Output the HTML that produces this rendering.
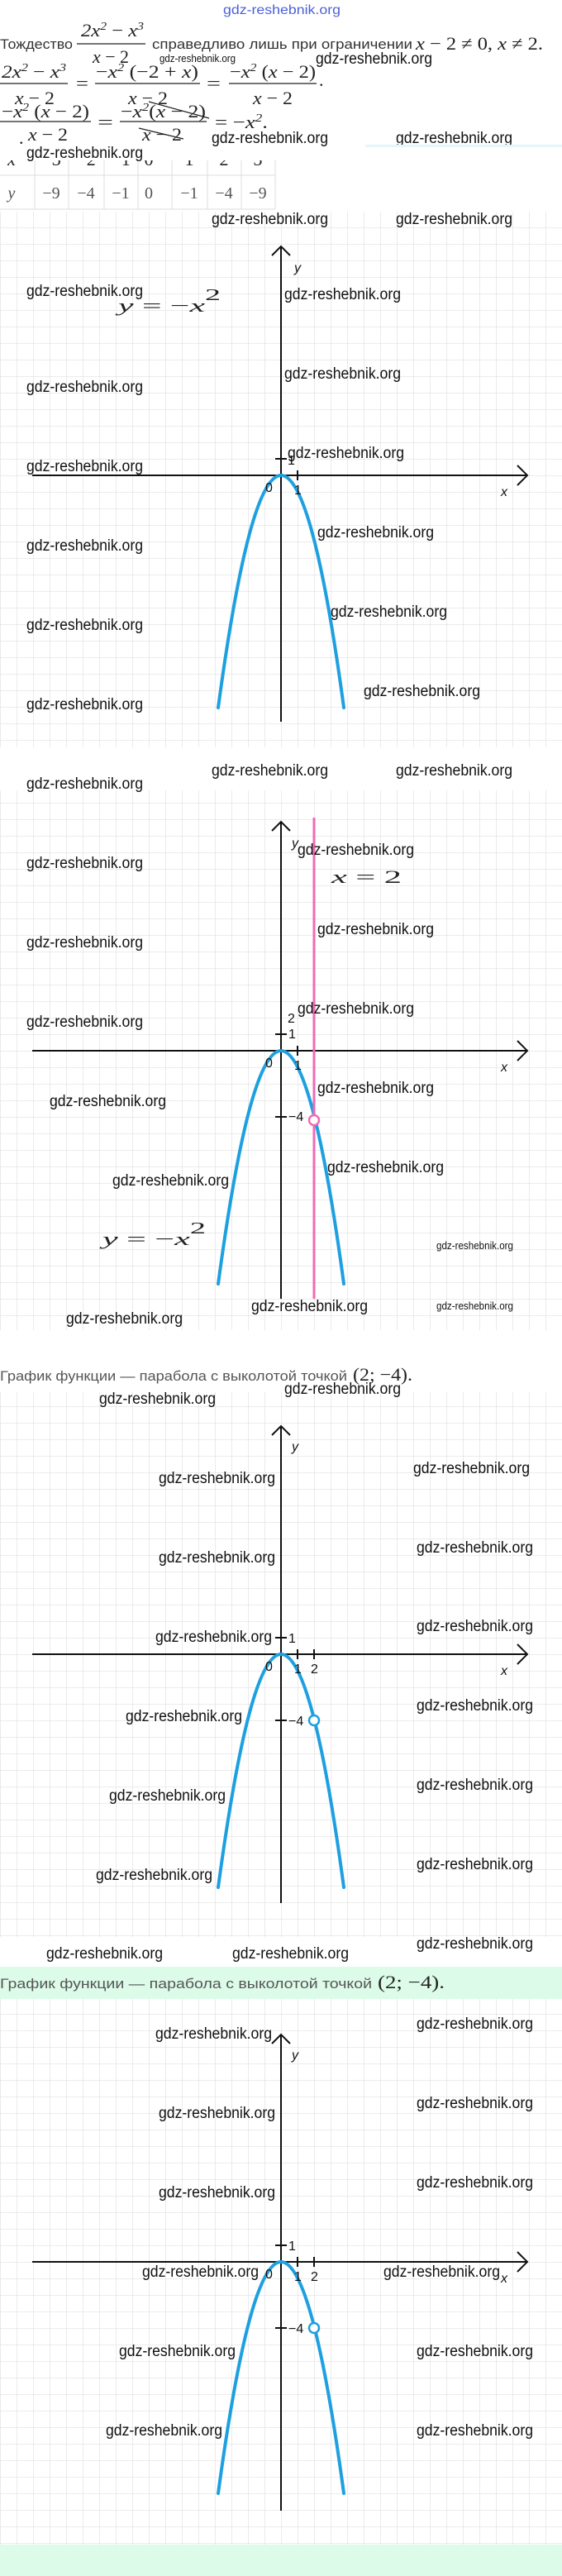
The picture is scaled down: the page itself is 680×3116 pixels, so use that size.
<!DOCTYPE html>
<html><head><meta charset="utf-8"><style>
html,body{margin:0;padding:0;background:#fff}
svg{display:block}
.w{font-family:"Liberation Sans",sans-serif;font-size:19px;fill:#111}
.ws{font-family:"Liberation Sans",sans-serif;font-size:13px;fill:#111}
.m{font-family:"Liberation Serif",serif;font-size:22px;fill:#222}
.mi{font-family:"Liberation Serif",serif;font-style:italic}
.t{font-family:"Liberation Sans","DejaVu Sans",sans-serif;font-size:17px;fill:#333}
.c{font-family:"Liberation Sans","DejaVu Sans",sans-serif;font-size:17px;fill:#555}
.l{font-family:"Liberation Sans",sans-serif;font-size:16px;fill:#111}
.ax{stroke:#111;stroke-width:2;fill:none}
.pb{stroke:#1ea0e0;stroke-width:4;fill:none;stroke-linecap:round}
</style></head><body>
<svg width="680" height="3116" viewBox="0 0 680 3116" xmlns="http://www.w3.org/2000/svg">
<defs>
<pattern id="g1" x="340" y="575" width="20" height="20" patternUnits="userSpaceOnUse"><path d="M0 0H20M0 0V20" stroke="#e0e0e0" stroke-width="1.3" fill="none"/></pattern>
<pattern id="g2" x="340" y="1271" width="20" height="20" patternUnits="userSpaceOnUse"><path d="M0 0H20M0 0V20" stroke="#e0e0e0" stroke-width="1.3" fill="none"/></pattern>
<pattern id="g3" x="340" y="2001" width="20" height="20" patternUnits="userSpaceOnUse"><path d="M0 0H20M0 0V20" stroke="#e0e0e0" stroke-width="1.3" fill="none"/></pattern>
<pattern id="g4" x="340" y="2736" width="20" height="20" patternUnits="userSpaceOnUse"><path d="M0 0H20M0 0V20" stroke="#e0e0e0" stroke-width="1.3" fill="none"/></pattern>
<clipPath id="tc"><rect x="0" y="194" width="340" height="70"/></clipPath>
</defs>

<!-- header -->
<text x="270" y="17" textLength="142" lengthAdjust="spacingAndGlyphs" font-family="Liberation Sans,sans-serif" font-size="16" fill="#4b5fd6">gdz-reshebnik.org</text>

<!-- line 1 -->
<text class="t" x="0" y="59" textLength="88" lengthAdjust="spacingAndGlyphs">Тождество</text>
<text class="m mi" x="98" y="44" textLength="76" lengthAdjust="spacingAndGlyphs">2x<tspan font-size="14" dy="-8">2</tspan><tspan dy="8" font-style="normal"> − </tspan>x<tspan font-size="14" dy="-8">3</tspan></text>
<line x1="93" y1="53" x2="176" y2="53" stroke="#222" stroke-width="1.2"/>
<text class="m mi" x="112" y="76" textLength="44" lengthAdjust="spacingAndGlyphs">x <tspan font-style="normal">− 2</tspan></text>
<text class="t" x="184" y="59" textLength="315" lengthAdjust="spacingAndGlyphs">справедливо лишь при ограничении</text>
<text class="m mi" x="503" y="60" textLength="154" lengthAdjust="spacingAndGlyphs">x <tspan font-style="normal">− 2 ≠ 0, </tspan>x<tspan font-style="normal"> ≠ 2.</tspan></text>
<text class="ws" x="193" y="75" textLength="92" lengthAdjust="spacingAndGlyphs">gdz-reshebnik.org</text>
<text class="w" x="382" y="77" textLength="141" lengthAdjust="spacingAndGlyphs">gdz-reshebnik.org</text>

<!-- line 2 -->
<text class="m mi" x="2" y="94" textLength="78" lengthAdjust="spacingAndGlyphs">2x<tspan font-size="14" dy="-8">2</tspan><tspan dy="8" font-style="normal"> − </tspan>x<tspan font-size="14" dy="-8">3</tspan></text>
<line x1="0" y1="101" x2="82" y2="101" stroke="#222" stroke-width="1.2"/>
<text class="m mi" x="18" y="126" textLength="48" lengthAdjust="spacingAndGlyphs">x <tspan font-style="normal">− 2</tspan></text>
<text class="m" x="92" y="108" textLength="15" lengthAdjust="spacingAndGlyphs">=</text>
<text class="m mi" x="116" y="94" textLength="124" lengthAdjust="spacingAndGlyphs"><tspan font-style="normal">−</tspan>x<tspan font-size="14" dy="-8">2</tspan><tspan dy="8" font-style="normal"> (−2 + </tspan>x<tspan font-style="normal">)</tspan></text>
<line x1="115" y1="101" x2="242" y2="101" stroke="#222" stroke-width="1.2"/>
<text class="m mi" x="155" y="126" textLength="48" lengthAdjust="spacingAndGlyphs">x <tspan font-style="normal">− 2</tspan></text>
<text class="m" x="250" y="108" textLength="17" lengthAdjust="spacingAndGlyphs">=</text>
<text class="m mi" x="278" y="94" textLength="104" lengthAdjust="spacingAndGlyphs"><tspan font-style="normal">−</tspan>x<tspan font-size="14" dy="-8">2</tspan><tspan dy="8" font-style="normal"> (</tspan>x<tspan font-style="normal"> − 2)</tspan></text>
<line x1="277" y1="101" x2="383" y2="101" stroke="#222" stroke-width="1.2"/>
<text class="m mi" x="306" y="126" textLength="48" lengthAdjust="spacingAndGlyphs">x <tspan font-style="normal">− 2</tspan></text>
<text class="m" x="386" y="104">.</text>

<!-- line 3 -->
<text class="m mi" x="2" y="142" textLength="106" lengthAdjust="spacingAndGlyphs"><tspan font-style="normal">−</tspan>x<tspan font-size="14" dy="-8">2</tspan><tspan dy="8" font-style="normal"> (</tspan>x<tspan font-style="normal"> − 2)</tspan></text>
<line x1="0" y1="147" x2="110" y2="147" stroke="#222" stroke-width="1.2"/>
<text class="m" x="23" y="174">.</text>
<text class="m mi" x="34" y="170" textLength="48" lengthAdjust="spacingAndGlyphs">x <tspan font-style="normal">− 2</tspan></text>
<text class="m" x="118" y="155" textLength="19" lengthAdjust="spacingAndGlyphs">=</text>
<text class="m mi" x="146" y="142" textLength="103" lengthAdjust="spacingAndGlyphs"><tspan font-style="normal">−</tspan>x<tspan font-size="14" dy="-8">2</tspan><tspan dy="8" font-style="normal">(</tspan>x<tspan font-style="normal"> − 2)</tspan></text>
<line x1="145" y1="147" x2="250" y2="147" stroke="#222" stroke-width="1.2"/>
<line x1="180" y1="123" x2="253" y2="143" stroke="#222" stroke-width="1.2"/>
<text class="m mi" x="172" y="170" textLength="48" lengthAdjust="spacingAndGlyphs">x <tspan font-style="normal">− 2</tspan></text>
<line x1="168" y1="155" x2="222" y2="168" stroke="#222" stroke-width="1.2"/>
<text class="m mi" x="260" y="155" textLength="64" lengthAdjust="spacingAndGlyphs"><tspan font-style="normal">= −</tspan>x<tspan font-size="14" dy="-8">2</tspan><tspan dy="8" font-style="normal">.</tspan></text>
<text class="w" x="256" y="173" textLength="141" lengthAdjust="spacingAndGlyphs">gdz-reshebnik.org</text>
<text class="w" x="479" y="173" textLength="141" lengthAdjust="spacingAndGlyphs">gdz-reshebnik.org</text>
<rect x="442" y="175" width="238" height="3" fill="#e3f6fb"/>

<!-- table -->
<g clip-path="url(#tc)">
<g stroke="#dcdcdc" stroke-width="1">
<line x1="0" y1="212" x2="333" y2="212"/><line x1="0" y1="253" x2="333" y2="253"/>
<line x1="42" y1="170" x2="42" y2="253"/><line x1="83" y1="170" x2="83" y2="253"/><line x1="126" y1="170" x2="126" y2="253"/><line x1="167" y1="170" x2="167" y2="253"/><line x1="208" y1="170" x2="208" y2="253"/><line x1="251" y1="170" x2="251" y2="253"/><line x1="292" y1="170" x2="292" y2="253"/><line x1="333" y1="170" x2="333" y2="253"/>
</g>
<g class="m" font-size="20" fill="#555" text-anchor="middle">
<text x="14" y="200" class="mi">x</text><text x="62" y="200">−3</text><text x="104" y="200">−2</text><text x="146" y="200">−1</text><text x="180" y="200">0</text><text x="229" y="200">1</text><text x="271" y="200">2</text><text x="312" y="200">3</text>
</g>
</g>
<g font-family="Liberation Serif,serif" font-size="20" fill="#555" text-anchor="middle">
<text x="14" y="240" font-style="italic">y</text><text x="62" y="240">−9</text><text x="104" y="240">−4</text><text x="146" y="240">−1</text><text x="180" y="240">0</text><text x="229" y="240">−1</text><text x="271" y="240">−4</text><text x="312" y="240">−9</text>
</g>
<text class="w" x="32" y="191" textLength="141" lengthAdjust="spacingAndGlyphs">gdz-reshebnik.org</text>

<!-- GRAPH 1 -->
<rect x="0" y="256" width="680" height="648" fill="url(#g1)"/>
<text class="w" x="256" y="271" textLength="141" lengthAdjust="spacingAndGlyphs">gdz-reshebnik.org</text>
<text class="w" x="479" y="271" textLength="141" lengthAdjust="spacingAndGlyphs">gdz-reshebnik.org</text>
<line class="ax" x1="39" y1="575" x2="637" y2="575"/>
<polyline class="ax" points="626,563 638,575 626,587"/>
<line class="ax" x1="340" y1="298" x2="340" y2="873"/>
<polyline class="ax" points="329,309 340,298 351,309"/>
<line class="ax" x1="360" y1="569" x2="360" y2="581"/>
<line class="ax" x1="333" y1="555" x2="347" y2="555"/>
<path class="pb" d="M264 856 Q340 294 416 856"/>
<text class="l" x="356" y="329" font-style="italic">y</text>
<text class="l" x="606" y="600" font-style="italic">x</text>
<text class="l" x="321" y="595">0</text>
<text class="l" x="356" y="598">1</text>
<text class="l" x="348" y="562">1</text>
<text class="m mi" x="143" y="377" font-size="30" textLength="124" lengthAdjust="spacingAndGlyphs">y <tspan font-style="normal">= −</tspan>x<tspan font-size="20" dy="-14" font-style="normal">2</tspan></text>
<g class="w">
<text x="32" y="358" textLength="141" lengthAdjust="spacingAndGlyphs">gdz-reshebnik.org</text>
<text x="32" y="474" textLength="141" lengthAdjust="spacingAndGlyphs">gdz-reshebnik.org</text>
<text x="32" y="570" textLength="141" lengthAdjust="spacingAndGlyphs">gdz-reshebnik.org</text>
<text x="32" y="666" textLength="141" lengthAdjust="spacingAndGlyphs">gdz-reshebnik.org</text>
<text x="32" y="762" textLength="141" lengthAdjust="spacingAndGlyphs">gdz-reshebnik.org</text>
<text x="32" y="858" textLength="141" lengthAdjust="spacingAndGlyphs">gdz-reshebnik.org</text>
<text x="344" y="362" textLength="141" lengthAdjust="spacingAndGlyphs">gdz-reshebnik.org</text>
<text x="344" y="458" textLength="141" lengthAdjust="spacingAndGlyphs">gdz-reshebnik.org</text>
<text x="348" y="554" textLength="141" lengthAdjust="spacingAndGlyphs">gdz-reshebnik.org</text>
<text x="384" y="650" textLength="141" lengthAdjust="spacingAndGlyphs">gdz-reshebnik.org</text>
<text x="400" y="746" textLength="141" lengthAdjust="spacingAndGlyphs">gdz-reshebnik.org</text>
<text x="440" y="842" textLength="141" lengthAdjust="spacingAndGlyphs">gdz-reshebnik.org</text>
</g>

<!-- between -->
<text class="w" x="256" y="938" textLength="141" lengthAdjust="spacingAndGlyphs">gdz-reshebnik.org</text>
<text class="w" x="479" y="938" textLength="141" lengthAdjust="spacingAndGlyphs">gdz-reshebnik.org</text>
<text class="w" x="32" y="954" textLength="141" lengthAdjust="spacingAndGlyphs">gdz-reshebnik.org</text>

<!-- GRAPH 2 -->
<rect x="0" y="956" width="680" height="653" fill="url(#g2)"/>
<line class="ax" x1="39" y1="1271" x2="637" y2="1271"/>
<polyline class="ax" points="626,1259 638,1271 626,1283"/>
<line class="ax" x1="340" y1="994" x2="340" y2="1571"/>
<polyline class="ax" points="329,1005 340,994 351,1005"/>
<line class="ax" x1="360" y1="1265" x2="360" y2="1277"/>
<line class="ax" x1="333" y1="1251" x2="347" y2="1251"/>
<line class="ax" x1="333" y1="1351" x2="347" y2="1351"/>
<path class="pb" d="M264 1553 Q340 989 416 1553"/>
<line x1="380" y1="989" x2="380" y2="1571" stroke="#f06ab4" stroke-width="3"/>
<circle cx="380" cy="1355" r="6" fill="#fff" stroke="#f06ab4" stroke-width="2.5"/>
<text class="l" x="353" y="1025" font-style="italic">y</text>
<text class="l" x="606" y="1296" font-style="italic">x</text>
<text class="l" x="321" y="1291">0</text>
<text class="l" x="356" y="1294">1</text>
<text class="l" x="349" y="1256">1</text>
<text class="l" x="348" y="1237">2</text>
<text class="l" x="349" y="1356">−4</text>
<text class="m mi" x="401" y="1068" font-size="32" textLength="85" lengthAdjust="spacingAndGlyphs">x <tspan font-style="normal">= 2</tspan></text>
<text class="m mi" x="124" y="1506" font-size="32" textLength="125" lengthAdjust="spacingAndGlyphs">y <tspan font-style="normal">= −</tspan>x<tspan font-size="20" dy="-14" font-style="normal">2</tspan></text>
<g class="w">
<text x="32" y="1050" textLength="141" lengthAdjust="spacingAndGlyphs">gdz-reshebnik.org</text>
<text x="32" y="1146" textLength="141" lengthAdjust="spacingAndGlyphs">gdz-reshebnik.org</text>
<text x="32" y="1242" textLength="141" lengthAdjust="spacingAndGlyphs">gdz-reshebnik.org</text>
<text x="60" y="1338" textLength="141" lengthAdjust="spacingAndGlyphs">gdz-reshebnik.org</text>
<text x="136" y="1434" textLength="141" lengthAdjust="spacingAndGlyphs">gdz-reshebnik.org</text>
<text x="80" y="1601" textLength="141" lengthAdjust="spacingAndGlyphs">gdz-reshebnik.org</text>
<text x="360" y="1034" textLength="141" lengthAdjust="spacingAndGlyphs">gdz-reshebnik.org</text>
<text x="384" y="1130" textLength="141" lengthAdjust="spacingAndGlyphs">gdz-reshebnik.org</text>
<text x="360" y="1226" textLength="141" lengthAdjust="spacingAndGlyphs">gdz-reshebnik.org</text>
<text x="384" y="1322" textLength="141" lengthAdjust="spacingAndGlyphs">gdz-reshebnik.org</text>
<text x="396" y="1418" textLength="141" lengthAdjust="spacingAndGlyphs">gdz-reshebnik.org</text>
<text x="304" y="1586" textLength="141" lengthAdjust="spacingAndGlyphs">gdz-reshebnik.org</text>
</g>
<text class="ws" x="528" y="1511" textLength="93" lengthAdjust="spacingAndGlyphs">gdz-reshebnik.org</text>
<text class="ws" x="528" y="1584" textLength="93" lengthAdjust="spacingAndGlyphs">gdz-reshebnik.org</text>

<!-- caption 1 -->
<text class="c" x="0" y="1670" textLength="420" lengthAdjust="spacingAndGlyphs">График функции — парабола с выколотой точкой</text>
<text class="m" x="427" y="1670" font-size="19" fill="#555" textLength="72" lengthAdjust="spacingAndGlyphs">(2;  −4).</text>

<!-- GRAPH 3 -->
<rect x="0" y="1684" width="680" height="659" fill="url(#g3)"/>
<text class="w" x="344" y="1686" textLength="141" lengthAdjust="spacingAndGlyphs">gdz-reshebnik.org</text>
<text class="w" x="120" y="1698" textLength="141" lengthAdjust="spacingAndGlyphs">gdz-reshebnik.org</text>
<line class="ax" x1="39" y1="2001" x2="637" y2="2001"/>
<polyline class="ax" points="626,1989 638,2001 626,2013"/>
<line class="ax" x1="340" y1="1725" x2="340" y2="2302"/>
<polyline class="ax" points="329,1736 340,1725 351,1736"/>
<line class="ax" x1="360" y1="1995" x2="360" y2="2007"/>
<line class="ax" x1="380" y1="1995" x2="380" y2="2007"/>
<line class="ax" x1="333" y1="1981" x2="347" y2="1981"/>
<line class="ax" x1="333" y1="2081" x2="347" y2="2081"/>
<path class="pb" d="M264 2283 Q340 1719 416 2283"/>
<circle cx="380" cy="2081" r="6" fill="#fff" stroke="#1ea0e0" stroke-width="2.5"/>
<text class="l" x="353" y="1755" font-style="italic">y</text>
<text class="l" x="606" y="2026" font-style="italic">x</text>
<text class="l" x="321" y="2021">0</text>
<text class="l" x="356" y="2024">1</text>
<text class="l" x="376" y="2024">2</text>
<text class="l" x="349" y="1987">1</text>
<text class="l" x="349" y="2087">−4</text>
<g class="w">
<text x="192" y="1794" textLength="141" lengthAdjust="spacingAndGlyphs">gdz-reshebnik.org</text>
<text x="192" y="1890" textLength="141" lengthAdjust="spacingAndGlyphs">gdz-reshebnik.org</text>
<text x="188" y="1986" textLength="141" lengthAdjust="spacingAndGlyphs">gdz-reshebnik.org</text>
<text x="152" y="2082" textLength="141" lengthAdjust="spacingAndGlyphs">gdz-reshebnik.org</text>
<text x="132" y="2178" textLength="141" lengthAdjust="spacingAndGlyphs">gdz-reshebnik.org</text>
<text x="116" y="2274" textLength="141" lengthAdjust="spacingAndGlyphs">gdz-reshebnik.org</text>
<text x="500" y="1782" textLength="141" lengthAdjust="spacingAndGlyphs">gdz-reshebnik.org</text>
<text x="504" y="1878" textLength="141" lengthAdjust="spacingAndGlyphs">gdz-reshebnik.org</text>
<text x="504" y="1973" textLength="141" lengthAdjust="spacingAndGlyphs">gdz-reshebnik.org</text>
<text x="504" y="2069" textLength="141" lengthAdjust="spacingAndGlyphs">gdz-reshebnik.org</text>
<text x="504" y="2165" textLength="141" lengthAdjust="spacingAndGlyphs">gdz-reshebnik.org</text>
<text x="504" y="2261" textLength="141" lengthAdjust="spacingAndGlyphs">gdz-reshebnik.org</text>
<text x="504" y="2357" textLength="141" lengthAdjust="spacingAndGlyphs">gdz-reshebnik.org</text>
<text x="56" y="2369" textLength="141" lengthAdjust="spacingAndGlyphs">gdz-reshebnik.org</text>
<text x="281" y="2369" textLength="141" lengthAdjust="spacingAndGlyphs">gdz-reshebnik.org</text>
</g>

<!-- caption 2 green -->
<rect x="0" y="2379" width="680" height="39" fill="#dcfbe9"/>
<text class="c" x="0" y="2405" font-size="19" textLength="450" lengthAdjust="spacingAndGlyphs">График функции — парабола с выколотой точкой</text>
<text class="m" x="457" y="2405" font-size="21" fill="#555" textLength="81" lengthAdjust="spacingAndGlyphs">(2;  −4).</text>

<!-- GRAPH 4 -->
<rect x="0" y="2418" width="680" height="660" fill="url(#g4)"/>
<line class="ax" x1="39" y1="2736" x2="637" y2="2736"/>
<polyline class="ax" points="626,2724 638,2736 626,2748"/>
<line class="ax" x1="340" y1="2461" x2="340" y2="3037"/>
<polyline class="ax" points="329,2472 340,2461 351,2472"/>
<line class="ax" x1="360" y1="2730" x2="360" y2="2742"/>
<line class="ax" x1="380" y1="2730" x2="380" y2="2742"/>
<line class="ax" x1="333" y1="2716" x2="347" y2="2716"/>
<line class="ax" x1="333" y1="2816" x2="347" y2="2816"/>
<path class="pb" d="M264 3016 Q340 2456 416 3016"/>
<circle cx="380" cy="2816" r="6" fill="#fff" stroke="#1ea0e0" stroke-width="2.5"/>
<text class="l" x="353" y="2491" font-style="italic">y</text>
<text class="l" x="606" y="2761" font-style="italic">x</text>
<text class="l" x="321" y="2756">0</text>
<text class="l" x="356" y="2759">1</text>
<text class="l" x="376" y="2759">2</text>
<text class="l" x="349" y="2722">1</text>
<text class="l" x="349" y="2822">−4</text>
<g class="w">
<text x="188" y="2466" textLength="141" lengthAdjust="spacingAndGlyphs">gdz-reshebnik.org</text>
<text x="192" y="2562" textLength="141" lengthAdjust="spacingAndGlyphs">gdz-reshebnik.org</text>
<text x="192" y="2658" textLength="141" lengthAdjust="spacingAndGlyphs">gdz-reshebnik.org</text>
<text x="172" y="2754" textLength="141" lengthAdjust="spacingAndGlyphs">gdz-reshebnik.org</text>
<text x="144" y="2850" textLength="141" lengthAdjust="spacingAndGlyphs">gdz-reshebnik.org</text>
<text x="128" y="2946" textLength="141" lengthAdjust="spacingAndGlyphs">gdz-reshebnik.org</text>
<text x="504" y="2454" textLength="141" lengthAdjust="spacingAndGlyphs">gdz-reshebnik.org</text>
<text x="504" y="2550" textLength="141" lengthAdjust="spacingAndGlyphs">gdz-reshebnik.org</text>
<text x="504" y="2646" textLength="141" lengthAdjust="spacingAndGlyphs">gdz-reshebnik.org</text>
<text x="464" y="2754" textLength="141" lengthAdjust="spacingAndGlyphs">gdz-reshebnik.org</text>
<text x="504" y="2850" textLength="141" lengthAdjust="spacingAndGlyphs">gdz-reshebnik.org</text>
<text x="504" y="2946" textLength="141" lengthAdjust="spacingAndGlyphs">gdz-reshebnik.org</text>
</g>
<rect x="0" y="3078" width="680" height="38" fill="#dcfbe9"/>
</svg>
</body></html>
